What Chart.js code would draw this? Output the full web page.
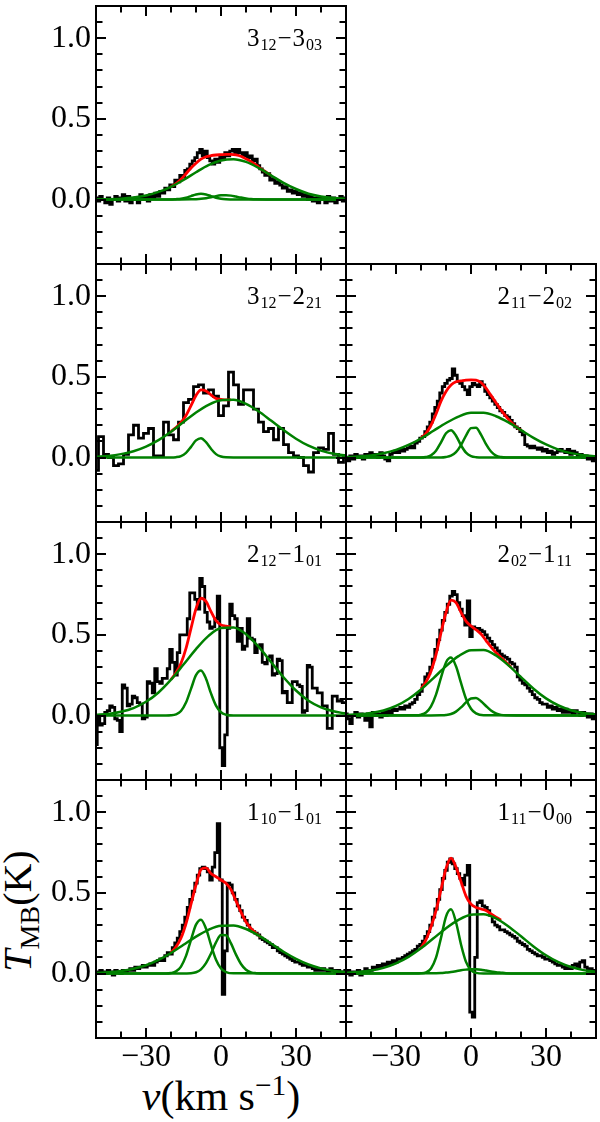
<!DOCTYPE html>
<html><head><meta charset="utf-8">
<script src="https://cdn.jsdelivr.net/npm/chart.js@4.4.0/dist/chart.umd.min.js"></script>
<style>
html,body{margin:0;padding:0;background:#fff;}
#fig{position:relative;width:600px;height:1122px;overflow:hidden;}
#fig canvas{position:absolute;}
.ttl{position:absolute;white-space:nowrap;color:#000;font-family:'Liberation Serif','Times New Roman',serif;text-align:center;}
#yt{left:-82px;top:889px;width:200px;height:44px;line-height:44px;font-size:40px;transform:rotate(-90deg);}
#yt sub{font-size:0.7em;vertical-align:-0.3em;line-height:0;}
#xt{left:0;width:442px;top:1075px;font-size:42px;line-height:42px;}
#xt sup{font-size:0.7em;vertical-align:0.5em;line-height:0;}
</style></head>
<body>
<div id="fig">
<div class="ttl" id="yt"><i>T</i><sub>MB</sub>(K)</div>
<div class="ttl" id="xt"><i>v</i>(km s<sup>&minus;1</sup>)</div>
</div>
<script>
// ---------- velocity grids (km/s) ----------
const VEL = [-50,-49,-48,-47,-46,-45,-44,-43,-42,-41,-40,-39,-38,-37,-36,-35,-34,-33,-32,-31,
-30,-29,-28,-27,-26,-25,-24,-23,-22,-21,-20,-19,-18,-17,-16,-15,-14,-13,-12,-11,
-10,-9,-8,-7,-6,-5,-4,-3,-2,-1,0,1,2,3,4,5,6,7,8,9,10,11,12,13,14,15,16,17,18,19,
20,21,22,23,24,25,26,27,28,29,30,31,32,33,34,35,36,37,38,39,40,41,42,43,44,45,46,47,48,49,50];
const VEL2 = [-50,-48,-46,-44,-42,-40,-38,-36,-34,-32,-30,-28,-26,-24,-22,-20,-18,-16,-14,-12,
-10,-8,-6,-4,-2,0,2,4,6,8,10,12,14,16,18,20,22,24,26,28,30,32,34,36,38,40,42,44,46,48,50];
const V_BROAD = [-50,-45,-40,-35,-30,-25,-20,-15,-10,-5,0,5,10,15,20,25,30,35,40,45,50];
const V_NAR1 = [-50,-22,-20,-18,-16,-14,-12,-10,-8,-6,-4,-2,0,2,5,50];
const V_NAR2 = [-50,-16,-12,-10,-8,-6,-4,-2,0,2,4,6,8,10,12,14,18,50];
const V_FIT = [-20,-18,-16,-14,-12,-10,-8,-6,-4,-2,0,2,4,6,8,10,12,14,16,18,20];

// ---------- tick values ----------
const X_MAJOR = [-30, 0, 30];
const X_MINOR = [-40, -20, -10, 10, 20, 40];
const Y_MAJOR = [0, 0.5, 1.0];
const Y_MINOR = [-0.3,-0.2,-0.1,0.1,0.2,0.3,0.4,0.6,0.7,0.8,0.9,1.1];

// ---------- transition labels ----------
const LBL_A = ['3','12','3','03'];
const LBL_B = ['3','12','2','21'];
const LBL_C = ['2','11','2','02'];
const LBL_D = ['2','12','1','01'];
const LBL_E = ['2','02','1','11'];
const LBL_F = ['1','10','1','01'];
const LBL_G = ['1','11','0','00'];

// ---------- observed spectra, T_MB (K) ----------
const SPEC_A = [.01,-.01,.02,.00,-.02,.01,-.03,.00,.02,-.01,
.01,.03,-.01,.02,-.02,.00,.01,-.02,.03,.00,
.02,-.01,.03,.01,.04,.02,.05,.04,.07,.06,
.09,.08,.12,.11,.15,.14,.18,.19,.22,.24,
.26,.29,.31,.27,.30,.26,.24,.22,.25,.23,
.27,.25,.29,.27,.30,.31,.28,.31,.29,.27,
.29,.26,.27,.24,.25,.21,.19,.17,.15,.16,
.12,.13,.10,.11,.09,.07,.08,.05,.06,.04,
.05,.03,.04,.02,.03,.00,.02,-.01,.01,-.02,
.01,.00,-.02,.02,-.01,.01,-.02,.00,.02,-.01,.01];
const SPEC_B = [-.08,.13,.02,.00,-.05,-.04,.02,.14,.20,.12,.15,.18,.01,.01,.22,.14,.11,.22,.34,.36,
.44,.45,.40,.42,.38,.26,.32,.53,.45,.33,.42,.42,.30,.22,.16,.18,.11,.18,.08,.03,
.01,.00,-.05,-.09,.03,.06,.05,.15,.02,-.03,.00];
const SPEC_C = [.00,-.02,.01,-.01,.02,.00,.01,-.01,.02,.01,
.03,.01,.02,.00,.03,.01,-.01,-.02,.02,.03,
.04,.03,.05,.04,.05,.06,.07,.06,.09,.10,
.12,.13,.16,.19,.22,.27,.31,.35,.40,.44,
.46,.48,.49,.55,.51,.47,.46,.44,.42,.39,
.44,.46,.45,.44,.47,.45,.41,.39,.37,.35,
.33,.31,.29,.28,.26,.25,.23,.21,.19,.18,
.16,.14,.08,.07,.06,.07,.06,.05,.06,.04,
.05,.03,.04,.02,.03,.04,.05,.04,.03,.05,
.02,.04,.03,.01,.02,.00,.01,-.01,.00,-.02,.00];
const SPEC_D = [-.18,.00,-.06,-.05,.02,.03,.06,.05,-.02,-.03,
-.10,.19,.17,.06,.07,.12,.11,.08,.07,-.02,
-.01,.21,.20,.14,.29,.21,.20,.23,.23,.29,
.41,.33,.25,.39,.50,.50,.50,.60,.76,.76,
.72,.66,.85,.80,.64,.58,.54,.55,.60,.74,
-.20,-.31,-.12,.54,.69,.62,.60,.46,.54,.41,
.43,.60,.48,.47,.39,.43,.44,.33,.32,.36,
.37,.25,.26,.35,.34,.14,.15,.08,.08,.21,
.21,.19,.18,.02,.03,.31,.30,.17,.17,.14,
.14,.06,.06,-.08,-.08,.12,.12,.09,.09,.08,.08];
const SPEC_E = [.01,-.02,-.05,.00,.02,-.01,.01,.00,-.03,.01,
-.07,.02,.00,.01,-.01,.02,.00,.03,.01,.04,
.03,.04,.05,.04,.06,.05,.07,.08,.10,.13,
.15,.19,.24,.26,.30,.35,.41,.47,.53,.59,
.64,.69,.74,.77,.75,.70,.66,.62,.56,.71,
.49,.55,.54,.54,.53,.52,.50,.48,.46,.44,
.42,.40,.38,.37,.36,.35,.33,.32,.30,.24,
.22,.20,.19,.17,.15,.13,.11,.10,.08,.07,
.07,.05,.06,.04,.05,.03,.04,.02,.04,.02,
.03,.01,.03,.02,.00,.02,.01,-.01,.01,-.02,.00];
const SPEC_F = [.01,.00,.02,.01,.00,.02,.01,-.01,.02,.01,
.00,.02,.01,.02,.03,.02,.04,.03,.04,.05,
.04,.05,.06,.05,.07,.08,.09,.08,.11,.13,
.12,.16,.19,.22,.26,.30,.35,.41,.46,.51,
.56,.61,.65,.66,.65,.63,.58,.66,.75,.93,
.58,-.13,.14,.56,.55,.50,.46,.42,.39,.35,
.33,.30,.27,.26,.25,.24,.22,.21,.20,.19,
.18,.16,.16,.14,.13,.12,.11,.10,.09,.08,
.07,.07,.06,.05,.05,.04,.04,.03,.02,.03,
.02,.03,.02,.01,.03,.02,.01,.02,.00,.01,.02];
const SPEC_G = [.00,.02,-.01,.01,.00,.02,-.01,.01,.03,.01,
.02,.04,.03,.05,.04,.06,.05,.07,.06,.08,
.07,.09,.09,.10,.11,.12,.13,.14,.15,.17,
.18,.20,.23,.26,.30,.35,.40,.46,.52,.59,
.64,.69,.71,.68,.65,.62,.59,.55,.61,.67,
-.24,-.27,.10,.44,.45,.42,.41,.39,.36,.32,
.30,.29,.27,.27,.26,.25,.24,.23,.22,.20,
.19,.18,.17,.15,.14,.13,.12,.11,.11,.10,
.09,.09,.08,.07,.06,.05,.05,.04,.03,.04,
.03,.05,.06,.04,.07,.08,.04,.02,.03,.01,.02];

// ---------- total fits (red), on V_FIT ----------
const RED_A = [.079,.098,.125,.16,.195,.225,.25,.265,.272,.276,.278,.28,.28,.277,.268,.252,.235,.215,.19,.17,.15];
const RED_B = [.162,.186,.217,.261,.322,.385,.420,.413,.388,.366,.361,.357,.357,null,null,null,null,null,null,null,null];
const RED_C = [.12,.15,.20,.27,.35,.41,.45,.47,.475,.48,.482,.48,.465,.43,.385,.34,.295,.255,.22,.19,.17];
const RED_D = [.223,.265,.324,.416,.540,.662,.727,.708,.644,.588,.562,.554,.549,null,null,null,null,null,null,null,null];
const RED_E = [.166,.208,.274,.377,.513,.638,.715,.70,.64,.585,.555,.532,.505,.465,.425,.39,.36,.33,.30,null,null];
const RED_F = [.13,.165,.22,.31,.43,.55,.645,.655,.62,.60,.58,.56,.52,.45,.38,.32,.28,.25,.225,null,null];
const RED_G = [.16,.21,.29,.39,.52,.65,.715,.66,.57,.48,.43,.41,.40,.39,.37,.35,.33,null,null,null,null];

// ---------- broad components (green), on V_BROAD ----------
const BROAD_A = [.001,.002,.005,.012,.025,.047,.079,.121,.169,.213,.242,.25,.233,.196,.150,.103,.065,.036,.019,.009,.004];
const BROAD_B = [.005,.010,.021,.039,.068,.108,.160,.220,.279,.327,.355,.358,.333,.287,.229,.170,.116,.073,.043,.023,.012];
const BROAD_C = [.003,.006,.013,.026,.047,.078,.118,.166,.214,.254,.277,.277,.256,.218,.170,.122,.081,.049,.027,.014,.007];
const BROAD_D = [.004,.010,.023,.046,.085,.143,.222,.316,.412,.494,.542,.546,.504,.427,.332,.237,.155,.092,.051,.026,.012];
const BROAD_E = [.003,.007,.015,.031,.059,.102,.161,.232,.306,.368,.405,.406,.372,.311,.238,.166,.106,.062,.033,.016,.007];
const BROAD_F = [.003,.007,.015,.029,.051,.084,.127,.178,.229,.271,.296,.298,.276,.236,.186,.135,.091,.056,.032,.017,.008];
const BROAD_G = [.004,.009,.018,.035,.063,.103,.156,.218,.281,.333,.365,.368,.342,.292,.231,.168,.113,.070,.040,.021,.010];

// ---------- narrow blue-shifted components (green), on V_NAR1 ----------
const NAR1_A = [0,0,0,.002,.005,.011,.021,.031,.035,.031,.021,.011,.005,.002,0,0];
const NAR1_B = [0,0,0,.002,.009,.029,.066,.106,.120,.095,.054,.021,.006,.001,0,0];
const NAR1_C = [0,0,0,.003,.013,.042,.094,.150,.169,.135,.076,.030,.009,.002,0,0];
const NAR1_D = [0,0,.001,.007,.028,.080,.165,.250,.279,.228,.137,.061,.020,.005,0,0];
const NAR1_E = [0,.001,.005,.019,.057,.130,.235,.329,.359,.305,.202,.104,.042,.013,.001,0];
const NAR1_F = [0,0,.003,.013,.043,.109,.209,.303,.334,.279,.177,.085,.031,.009,.001,0];
const NAR1_G = [0,0,.001,.007,.031,.098,.221,.353,.398,.318,.180,.072,.020,.004,0,0];

// ---------- narrow systemic components (green), on V_NAR2 ----------
const NAR2_A = [0,0,.001,.002,.004,.008,.014,.021,.026,.027,.024,.018,.012,.007,.003,.001,0,0];
const NAR2_C = [0,0,0,.003,.011,.033,.077,.136,.182,.185,.142,.083,.037,.012,.003,0,0,0];
const NAR2_E = [0,0,.001,.003,.009,.024,.050,.081,.105,.108,.089,.059,.031,.013,.004,.001,0,0];
const NAR2_F = [0,0,.002,.008,.026,.064,.124,.193,.239,.237,.187,.117,.059,.023,.007,.002,0,0];
const NAR2_G = [0,.001,.003,.006,.009,.014,.020,.024,.027,.026,.023,.018,.013,.008,.005,.002,0,0];

// ---------- layout ----------
const COL_LEFT = [96, 346];
const ROW_TOP = [6, 264, 522, 780];
const PW = 250, PH = 258;
const FONT = "'Liberation Serif','Times New Roman',serif";

const PANELS = [
  {row:0,col:0,label:LBL_A,vel:VEL, spec:SPEC_A,red:RED_A,broad:BROAD_A,n1:NAR1_A,n2:NAR2_A},
  {row:1,col:0,label:LBL_B,vel:VEL2,spec:SPEC_B,red:RED_B,broad:BROAD_B,n1:NAR1_B,n2:null},
  {row:1,col:1,label:LBL_C,vel:VEL, spec:SPEC_C,red:RED_C,broad:BROAD_C,n1:NAR1_C,n2:NAR2_C},
  {row:2,col:0,label:LBL_D,vel:VEL, spec:SPEC_D,red:RED_D,broad:BROAD_D,n1:NAR1_D,n2:null},
  {row:2,col:1,label:LBL_E,vel:VEL, spec:SPEC_E,red:RED_E,broad:BROAD_E,n1:NAR1_E,n2:NAR2_E},
  {row:3,col:0,label:LBL_F,vel:VEL, spec:SPEC_F,red:RED_F,broad:BROAD_F,n1:NAR1_F,n2:NAR2_F},
  {row:3,col:1,label:LBL_G,vel:VEL, spec:SPEC_G,red:RED_G,broad:BROAD_G,n1:NAR1_G,n2:NAR2_G}
];

function xy(xs, ys) {
  const out = [];
  for (let i = 0; i < xs.length; i++) if (ys[i] !== null) out.push({x: xs[i], y: ys[i]});
  return out;
}

const framePlugin = {
  id: 'frame',
  afterDraw(chart, args, opts) {
    const {ctx, chartArea: a, scales: {x, y}} = chart;
    ctx.save();
    ctx.strokeStyle = '#000';
    ctx.lineWidth = 2;
    ctx.lineCap = 'butt';
    ctx.beginPath();
    const tick = (vals, len) => {
      vals.forEach(v => {
        const px = Math.round(x.getPixelForValue(v));
        ctx.moveTo(px, a.bottom); ctx.lineTo(px, a.bottom - len);
        ctx.moveTo(px, a.top); ctx.lineTo(px, a.top + len);
      });
    };
    const ytick = (vals, len) => {
      vals.forEach(v => {
        const py = Math.round(y.getPixelForValue(v));
        ctx.moveTo(a.left, py); ctx.lineTo(a.left + len, py);
        ctx.moveTo(a.right, py); ctx.lineTo(a.right - len, py);
      });
    };
    tick(X_MAJOR, 10); tick(X_MINOR, 6.5);
    ytick(Y_MAJOR, 10); ytick(Y_MINOR, 6.5);
    ctx.stroke();
    ctx.strokeRect(a.left, a.top, a.right - a.left, a.bottom - a.top);

    // transition label, e.g. 3_12 - 3_03
    const [u, us, l, ls] = opts.label;
    const main = '25px ' + FONT, sub = '16px ' + FONT;
    const segs = [[u, main, 0], [us, sub, 4], ['\u2212', main, 0], [l, main, 0], [ls, sub, 4]];
    let total = 0;
    segs.forEach(s => { ctx.font = s[1]; s.push(ctx.measureText(s[0]).width); total += s[3] + 1; });
    let xx = a.right - 23 - total;
    const base = a.top + 40;
    ctx.fillStyle = '#000';
    ctx.textBaseline = 'alphabetic';
    ctx.textAlign = 'left';
    segs.forEach(s => { ctx.font = s[1]; ctx.fillText(s[0], xx, base + s[2]); xx += s[3] + 1; });
    ctx.restore();
  }
};

const fig = document.getElementById('fig');
PANELS.forEach(p => {
  const padL = p.col === 0 ? 96 : 6, padR = 6, padT = 6, padB = p.row === 3 ? 60 : 6;
  const cv = document.createElement('canvas');
  cv.width = PW + padL + padR; cv.height = PH + padT + padB;
  cv.style.width = cv.width + 'px'; cv.style.height = cv.height + 'px';
  cv.style.left = (COL_LEFT[p.col] - padL) + 'px';
  cv.style.top = (ROW_TOP[p.row] - padT) + 'px';
  fig.appendChild(cv);

  const line = (data, color, w, order, extra) => Object.assign({
    data, borderColor: color, borderWidth: w, pointRadius: 0, fill: false, order
  }, extra || {});
  const smooth = {cubicInterpolationMode: 'monotone'};
  const ds = [
    line(xy(p.vel, p.spec), '#000000', 2.8, 4, {stepped: 'middle'}),
    line(xy(V_FIT, p.red), '#ff0000', 2.8, 3, smooth),
    line(xy(V_BROAD, p.broad), '#008000', 2.5, 2, smooth),
    line(xy(V_NAR1, p.n1), '#008000', 2.5, 1, smooth)
  ];
  if (p.n2) ds.push(line(xy(V_NAR2, p.n2), '#008000', 2.5, 1, smooth));

  const noPad = s => { s.paddingTop = 0; s.paddingBottom = 0; s.paddingLeft = 0; s.paddingRight = 0; };

  new Chart(cv, {
    type: 'line',
    data: {datasets: ds},
    options: {
      responsive: false, animation: false, events: [], devicePixelRatio: 1,
      layout: {padding: {top: padT, right: padR, left: 0, bottom: 0}},
      plugins: {legend: {display: false}, tooltip: {enabled: false}, frame: {label: p.label}},
      scales: {
        x: {
          type: 'linear', min: -50, max: 50, position: 'bottom',
          grid: {display: false, drawTicks: false, tickLength: 0}, border: {display: false},
          ticks: {display: p.row === 3, stepSize: 30, includeBounds: false, autoSkip: false,
            maxRotation: 0, minRotation: 0, padding: 0, color: '#000', font: {family: FONT, size: 32},
            callback: v => (v < 0 ? '\u2212' + Math.abs(v) : String(v))},
          afterFit: s => { s.height = padB; noPad(s); }
        },
        y: {
          type: 'linear', min: -0.4, max: 1.2, position: 'left',
          grid: {display: false, drawTicks: false, tickLength: 0}, border: {display: false},
          ticks: {display: p.col === 0, stepSize: 0.5, includeBounds: false, autoSkip: false,
            padding: 5, color: '#000', font: {family: FONT, size: 32},
            callback: v => Number(v).toFixed(1)},
          afterFit: s => { s.width = padL; noPad(s); }
        }
      }
    },
    plugins: [framePlugin]
  });
});
</script>
</body></html>
